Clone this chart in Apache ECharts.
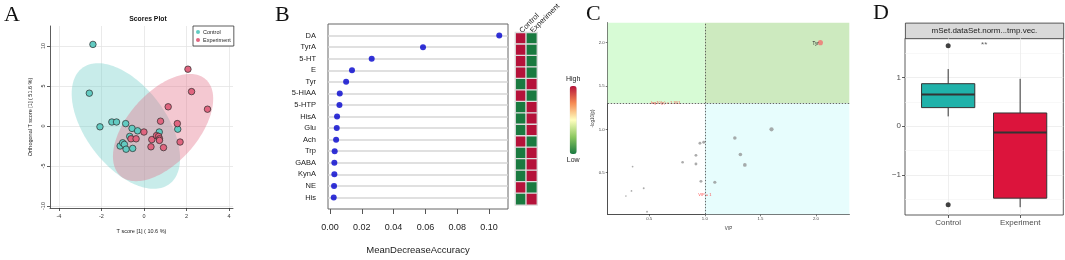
<!DOCTYPE html>
<html><head><meta charset="utf-8">
<script src="https://cdn.jsdelivr.net/npm/echarts@6/dist/echarts.min.js"></script>
<style>html,body{margin:0;padding:0;background:#fff}#c{width:1065px;height:260px}</style>
</head><body><div id="c"></div>
<script>
// ================= DATA =================
// Panel A: OPLS-DA scores
const scoreCtrlX = [-2.40,-2.57,-2.07,-1.51,-1.29,-0.86,-0.56,-0.30,-0.67,-1.12,-1.00,-0.92,-0.84,-0.53,0.72,1.59];
const scoreCtrlY = [10.2,4.1,-0.1,0.5,0.5,0.3,-0.3,-0.6,-1.3,-2.5,-2.1,-2.3,-2.9,-2.8,-0.75,-0.4];
const scoreExpX = [2.07,2.24,2.99,1.14,0.78,1.57,0.00,-0.61,-0.37,0.37,0.59,0.69,0.73,0.73,0.33,0.92,1.70];
const scoreExpY = [7.1,4.3,2.1,2.4,0.6,0.3,-0.75,-1.6,-1.6,-1.7,-1.2,-1.3,-1.6,-1.8,-2.6,-2.7,-2.0];
const ctrlEllipseCenter = [-0.85, 0.0];
const ctrlEllipseCov = [6.5, -10.3, 61.6];   // [var x, cov xy, var y]
const expEllipseCenter = [0.9, -0.2];
const expEllipseCov = [5.56, 8.5, 44.9];
const scoreXTicks = [-4,-2,0,2,4];
const scoreYTicks = [-10,-5,0,5,10];

// Panel B: random forest importance
const rfNames = ['DA','TyrA','5-HT','E','Tyr','5-HIAA','5-HTP','HisA','Glu','Ach','Trp','GABA','KynA','NE','His'];
const rfMDA = [0.1065,0.0585,0.0262,0.0138,0.0101,0.0061,0.0059,0.0044,0.0042,0.0038,0.0029,0.0027,0.0027,0.0025,0.0023];
const rfTicks = [0,0.02,0.04,0.06,0.08,0.10];
const heatGroups = ['Control','Experiment'];
const heatControl    = [1,1,1,1,0,1,0,0,0,1,0,0,0,1,0];   // 1 = high, 0 = low
const heatExperiment = [0,0,0,0,1,0,1,1,1,0,1,1,1,0,1];

// Panel C: VIP vs -log10(p)
const volcNames = ['Tyr','','','','','','','','','','','','','','','',''];
const volcVIP  = [2.04,1.60,1.27,1.32,1.36,1.09,0.956,0.99,0.92,0.92,0.80,0.965,0.35,0.45,0.34,0.29,0.48];
const volcLogP = [2.00,1.00,0.90,0.71,0.59,0.39,0.84,0.85,0.70,0.60,0.62,0.40,0.57,0.32,0.29,0.23,0.05];
const volcTicks = [0.5,1.0,1.5,2.0];
const pThreshold = 1.30103;
const vipThreshold = 1;

// Panel D: box plot
const boxGroups = ['Control','Experiment'];
const boxControl = [0.20,0.38,0.65,0.87,1.17];      // min, q1, median, q3, max
const boxExperiment = [-1.66,-1.475,-0.13,0.27,0.97];
const boxOutliersControl = [1.645,-1.61];
const boxYTicks = [-1,0,1];
const boxYMinor = [-1.5,-0.5,0.5,1.5];

// ================= CHART =================
const FONT = '"Liberation Sans", Arial, sans-serif';
const SERIF = '"Liberation Serif", "Times New Roman", serif';
const chart = echarts.init(document.getElementById('c'), null, {renderer:'canvas'});

function ellipseSeries(name, center, cov, fill) {
  return {
    type:'custom', name, xAxisIndex:0, yAxisIndex:0, clip:false, silent:true, z:1,
    data:[[center[0], center[1]]],
    renderItem:function(params, api){
      const L11 = Math.sqrt(cov[0]), L21 = cov[1]/L11, L22 = Math.sqrt(cov[2]-L21*L21);
      const pts = [];
      for (let k=0;k<=160;k++){
        const t = k/160*2*Math.PI;
        pts.push(api.coord([center[0]+L11*Math.cos(t), center[1]+L21*Math.cos(t)+L22*Math.sin(t)]));
      }
      return {type:'polygon', shape:{points:pts}, style:{fill:fill}};
    }
  };
}

function zip(a,b){ return a.map((v,i)=>[v,b[i]]); }

const option = {
  animation:false,
  textStyle:{fontFamily:FONT},
  title:[{text:'Scores Plot', left:143, top:11, textAlign:'center',
          textStyle:{fontSize:6.8, fontWeight:'bold', color:'#111', fontFamily:FONT}}],
  legend:{
    data:['Control','Experiment'], left:193, top:26, orient:'vertical',
    itemWidth:4, itemHeight:4, itemGap:2, icon:'circle', padding:[3,3,3,3],
    borderColor:'#333', borderWidth:0.8, backgroundColor:'#fff',
    itemStyle:{borderWidth:0},
    textStyle:{fontSize:5.5, color:'#222', padding:[0,0,0,-2]}
  },
  graphic:[
    {type:'text', left:4, top:4, style:{text:'A', font:'22px '+SERIF, fill:'#111'}},
    {type:'text', left:275, top:4, style:{text:'B', font:'22px '+SERIF, fill:'#111'}},
    {type:'text', left:586, top:3, style:{text:'C', font:'22px '+SERIF, fill:'#111'}},
    {type:'text', left:873, top:2, style:{text:'D', font:'22px '+SERIF, fill:'#111'}},
    {type:'group', left:905, top:22.7, children:[
      {type:'rect', shape:{x:0,y:0,width:158.3,height:15.6}, style:{fill:'#d9d9d9', stroke:'#333', lineWidth:0.8}},
      {type:'text', x:79, y:8, style:{text:'mSet.dataSet.norm...tmp.vec.', font:'8px '+FONT, fill:'#1a1a1a', align:'center', verticalAlign:'middle'}}
    ]}
  ],
  visualMap:{
    type:'continuous', min:0, max:1, seriesIndex:5, calculable:false, realtime:false,
    left:551, top:61, itemWidth:7, itemHeight:68, text:['High','Low'], textGap:3,
    inRange:{color:['#1a7a40','#8cc860','#ffffbf','#f68a52','#b5123a']},
    textStyle:{fontSize:7, color:'#222'}
  },
  grid:[
    {left:50, top:26, width:183, height:182},
    {left:328, top:24, width:180, height:187, show:true, borderColor:'#666', borderWidth:1},
    {left:515.5, top:29.8, width:21.5, height:175},
    {left:607.7, top:22.7, width:241.6, height:191.6},
    {left:905, top:38.3, width:158.3, height:176.7, show:true, borderColor:'#333', borderWidth:0.8}
  ],
  xAxis:[
    {gridIndex:0, type:'value', min:-4.42, max:4.19,
     axisLine:{onZero:false, lineStyle:{color:'#333', width:0.8}},
     axisTick:{customValues:scoreXTicks, length:3, lineStyle:{color:'#333', width:0.8}},
     axisLabel:{customValues:scoreXTicks, fontSize:5.5, color:'#333', margin:5},
     splitLine:{show:true, lineStyle:{color:'#e4e4e4', width:0.8}},
     name:'T score [1] ( 10.6 %)', nameLocation:'middle', nameGap:20,
     nameTextStyle:{fontSize:5.5, color:'#222'}},
    {gridIndex:1, type:'value', min:-0.0013, max:0.112,
     axisLine:{show:false, onZero:false},
     axisTick:{customValues:rfTicks, length:5, lineStyle:{color:'#555'}},
     axisLabel:{customValues:rfTicks, fontSize:9, color:'#222', margin:14, formatter:v=>v.toFixed(2)},
     splitLine:{show:false},
     name:'MeanDecreaseAccuracy', nameLocation:'middle', nameGap:36,
     nameTextStyle:{fontSize:9.5, color:'#222'}},
    {gridIndex:2, type:'category', data:heatGroups, position:'top',
     axisLine:{show:false}, axisTick:{show:false},
     axisLabel:{rotate:-45, interval:0, hideOverlap:false, align:'left', verticalAlign:'middle',
                fontSize:7.5, color:'#222', margin:1}},
    {gridIndex:3, type:'value', min:0.126, max:2.30,
     axisLine:{onZero:false, lineStyle:{color:'#222', width:0.8}},
     axisTick:{customValues:volcTicks, length:2, lineStyle:{color:'#222', width:0.6}},
     axisLabel:{customValues:volcTicks, fontSize:4.3, color:'#444', margin:3, formatter:v=>v.toFixed(1)},
     splitLine:{show:false},
     name:'VIP', nameLocation:'middle', nameGap:7, nameTextStyle:{fontSize:4.5, color:'#333'}},
    {gridIndex:4, type:'value', min:0.4, max:2.6,
     axisLine:{show:false, onZero:false},
     axisTick:{customValues:[1,2], length:3, lineStyle:{color:'#333', width:0.8}},
     axisLabel:{customValues:[1,2], fontSize:8, color:'#4d4d4d', margin:4, formatter:v=>boxGroups[Math.round(v)-1]},
     splitLine:{show:true, lineStyle:{color:'#ebebeb', width:0.8}}}
  ],
  yAxis:[
    {gridIndex:0, type:'value', min:-10.25, max:12.5,
     axisLine:{show:true, onZero:false, lineStyle:{color:'#333', width:0.8}},
     axisTick:{show:true, customValues:scoreYTicks, length:3, lineStyle:{color:'#333', width:0.8}},
     axisLabel:{customValues:scoreYTicks, fontSize:5.5, color:'#333', margin:4, rotate:90},
     splitLine:{show:true, lineStyle:{color:'#e4e4e4', width:0.8}},
     name:'Orthogonal T score [1] ( 51.6 %)', nameLocation:'middle', nameGap:17, nameRotate:90,
     nameTextStyle:{fontSize:5.5, color:'#222'}},
    {gridIndex:1, type:'value', inverse:true, min:0, max:16,
     axisLine:{show:false, onZero:false}, axisTick:{show:false, customValues:rfNames.map((n,i)=>i+1)},
     axisLabel:{customValues:rfNames.map((n,i)=>i+1), fontSize:7.5, color:'#222', margin:12,
                formatter:v=>rfNames[Math.round(v)-1]},
     splitLine:{show:true, lineStyle:{color:'#d6d6d6', width:1.5}}},
    {gridIndex:2, type:'category', data:rfNames, inverse:true, show:false},
    {gridIndex:3, type:'value', min:0.02, max:2.23,
     axisLine:{show:true, onZero:false, lineStyle:{color:'#222', width:0.8}},
     axisTick:{show:true, customValues:volcTicks, length:2, lineStyle:{color:'#222', width:0.6}},
     axisLabel:{customValues:volcTicks, fontSize:4.3, color:'#444', margin:3, formatter:v=>v.toFixed(1)},
     splitLine:{show:false},
     name:'-log10(p)', nameLocation:'middle', nameGap:8, nameRotate:90,
     nameTextStyle:{fontSize:4.5, color:'#333'}},
    {gridIndex:4, type:'value', min:-1.82, max:1.80,
     axisLine:{show:false, onZero:false},
     axisTick:{show:true, customValues:boxYTicks, length:3, lineStyle:{color:'#333', width:0.8}},
     axisLabel:{customValues:boxYTicks, fontSize:8, color:'#4d4d4d', margin:4,
                formatter:v=>v<0?'\u2212'+Math.abs(v):String(v)},
     splitLine:{show:true, lineStyle:{color:'#ebebeb', width:0.8}}},
    {gridIndex:4, type:'value', min:-1.82, max:1.80, position:'left',
     axisLine:{show:false, onZero:false}, axisTick:{show:false, customValues:boxYMinor},
     axisLabel:{show:false, customValues:boxYMinor},
     splitLine:{show:true, lineStyle:{color:'#f4f4f4', width:0.6}}}
  ],
  series:[
    // 0,1 ellipses
    ellipseSeries('ctrlEllipse', ctrlEllipseCenter, ctrlEllipseCov, 'rgba(125,210,205,0.42)'),
    ellipseSeries('expEllipse', expEllipseCenter, expEllipseCov, 'rgba(225,110,135,0.38)'),
    // 2,3 score points
    {type:'scatter', name:'Control', xAxisIndex:0, yAxisIndex:0, z:3, symbolSize:6.5,
     data:zip(scoreCtrlX, scoreCtrlY),
     itemStyle:{color:'#62cbc2', borderColor:'#2a2a2a', borderWidth:0.7, opacity:1}},
    {type:'scatter', name:'Experiment', xAxisIndex:0, yAxisIndex:0, z:3, symbolSize:6.5,
     data:zip(scoreExpX, scoreExpY),
     itemStyle:{color:'#e0657f', borderColor:'#2a2a2a', borderWidth:0.7, opacity:1}},
    // 4 RF dots
    {type:'scatter', name:'rf', xAxisIndex:1, yAxisIndex:1, symbolSize:6,
     data:rfMDA.map((v,i)=>[v,i+1]), itemStyle:{color:'#0000cd'}},
    // 5 heatmap
    {type:'heatmap', name:'heat', xAxisIndex:2, yAxisIndex:2,
     data:[...heatControl.map((v,i)=>[0,i,v]), ...heatExperiment.map((v,i)=>[1,i,v])],
     itemStyle:{borderColor:'#dcdcdc', borderWidth:1.3}},
    // 6 volcano points
    {type:'scatter', name:'volc', xAxisIndex:3, yAxisIndex:3, z:3,
     data:volcVIP.map((v,i)=>({value:[v, volcLogP[i]], name:volcNames[i],
        itemStyle:(volcLogP[i]>pThreshold && v>vipThreshold)?{color:'#ea8a80', opacity:1}:{color:'#8f8f8f', opacity:0.75}})),
     symbolSize:(val)=>1+2*val[0],
     label:{show:true, formatter:p=>p.name, position:'left', distance:-1, offset:[0,1.5], fontSize:4.5, color:'#222'},
     markArea:{silent:true, itemStyle:{opacity:1}, data:[
       [{coord:[0.126, pThreshold], itemStyle:{color:'#d7fbd5'}}, {coord:[vipThreshold, 2.23]}],
       [{coord:[vipThreshold, pThreshold], itemStyle:{color:'#cdeabf'}}, {coord:[2.30, 2.23]}],
       [{coord:[vipThreshold, 0.02], itemStyle:{color:'#e7fdfd'}}, {coord:[2.30, pThreshold]}]
     ]},
     markLine:{silent:true, symbol:'none', label:{show:false},
       lineStyle:{color:'#444', type:[1.5,1.5], width:0.8},
       data:[{yAxis:pThreshold}, {xAxis:vipThreshold}]}
    },
    // 7 volcano threshold labels
    {type:'scatter', name:'volcLab', xAxisIndex:3, yAxisIndex:3, z:4, symbolSize:0,
     data:[{value:[0.64, pThreshold], name:'-log10(p) = 1.301'}, {value:[1.0, 0.24], name:'VIP = 1'}],
     label:{show:true, position:'inside', formatter:p=>p.name, fontSize:4, color:'#ff2020'}},
    // 8 boxes
    {type:'custom', name:'box', xAxisIndex:4, yAxisIndex:4, z:3,
     data:[[1, ...boxControl], [2, ...boxExperiment]],
     encode:{x:0, y:[1,2,3,4,5]},
     renderItem:function(params, api){
       const colors = ['#20b2aa','#dc143c'];
       const x = api.value(0);
       const v = [1,2,3,4,5].map(d=>api.coord([x, api.value(d)]));
       const half = api.size([0.74,0])[0]/2;
       const cx = v[0][0];
       const st = {stroke:'#333', lineWidth:1};
       return {type:'group', children:[
         {type:'line', shape:{x1:cx,y1:v[0][1],x2:cx,y2:v[1][1]}, style:st},
         {type:'line', shape:{x1:cx,y1:v[3][1],x2:cx,y2:v[4][1]}, style:st},
         {type:'rect', shape:{x:cx-half, y:v[3][1], width:2*half, height:v[1][1]-v[3][1]},
          style:{fill:colors[params.dataIndex], stroke:'#333', lineWidth:1}},
         {type:'line', shape:{x1:cx-half,y1:v[2][1],x2:cx+half,y2:v[2][1]}, style:{stroke:'#333', lineWidth:2}}
       ]};
     }},
    // 9 outliers
    {type:'scatter', name:'outliers', xAxisIndex:4, yAxisIndex:4, z:4, symbolSize:5,
     data:boxOutliersControl.map(v=>[1,v]), itemStyle:{color:'#111'}},
    // 10 significance
    {type:'scatter', name:'sig', xAxisIndex:4, yAxisIndex:4, z:4, symbolSize:0,
     data:[{value:[1.5, 1.66], name:'**'}],
     label:{show:true, position:'inside', formatter:p=>p.name, fontSize:8, color:'#333'}}
  ]
};
chart.setOption(option);
</script>
</body></html>
